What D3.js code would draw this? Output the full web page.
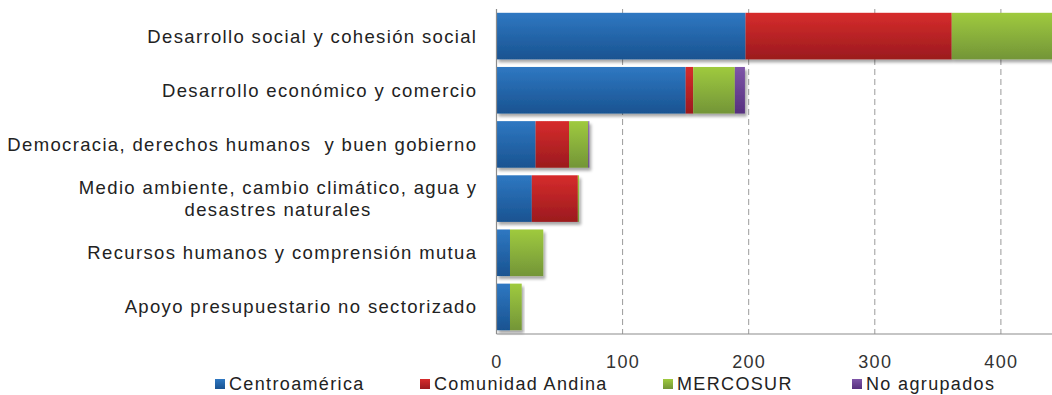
<!DOCTYPE html>
<html>
<head>
<meta charset="utf-8">
<script src="https://cdn.jsdelivr.net/npm/d3@7"></script>
<style>
  html, body { margin: 0; padding: 0; background: #fff; }
  svg { display: block; font-family: "Liberation Sans", Arial, sans-serif; }
</style>
</head>
<body>
<svg id="chart" width="1052" height="395"></svg>
<script>
// Sector categories (top to bottom)
const categories = [
  "Desarrollo social y cohesión social",
  "Desarrollo económico y comercio",
  "Democracia, derechos humanos  y buen gobierno",
  "Medio ambiente, cambio climático, agua y\ndesastres naturales",
  "Recursos humanos y comprensión mutua",
  "Apoyo presupuestario no sectorizado"
];

// Series names
const seriesNames = ["Centroamérica", "Comunidad Andina", "MERCOSUR", "No agrupados"];

// Values per series, aligned with categories
const centroamerica   = [197.5, 150, 31, 28, 10.7, 10.7];
const comunidadAndina = [163.5, 6, 26.5, 36.5, 0, 0];
const mercosur        = [120, 33, 15.3, 1, 26.4, 9.3];
const noAgrupados     = [0, 8, 0.8, 0, 0, 0];

// Axis tick labels
const tickValues = [0, 100, 200, 300, 400];

const seriesValues = [centroamerica, comunidadAndina, mercosur, noAgrupados];
const colors = [
  { top: "#2f78c2", bottom: "#195391" },
  { top: "#d62c2c", bottom: "#9b1a1e" },
  { top: "#9fca3e", bottom: "#739538" },
  { top: "#7e55a8", bottom: "#56307e" }
];

const rows = categories.map((c, i) => {
  const r = { category: c };
  seriesNames.forEach((s, k) => { r[s] = seriesValues[k][i]; });
  return r;
});

const svg = d3.select("#chart");
const W = 1052;
const plotLeft = 496.5, plotTop = 9, plotBottom = 334;
const spacing = 1.35;

const x = d3.scaleLinear().domain([0, 500]).range([plotLeft, plotLeft + 630.5]);
const y = d3.scaleBand().domain(categories).range([plotTop, plotBottom]).paddingInner(0.14).paddingOuter(0.07);

const defs = svg.append("defs");
colors.forEach((c, k) => {
  const g = defs.append("linearGradient").attr("id", "grad" + k)
    .attr("x1", 0).attr("y1", 0).attr("x2", 0).attr("y2", 1);
  g.append("stop").attr("offset", "0%").attr("stop-color", c.top);
  g.append("stop").attr("offset", "100%").attr("stop-color", c.bottom);
});
const shadow = defs.append("filter").attr("id", "shadow")
  .attr("x", "-5%").attr("y", "-10%").attr("width", "115%").attr("height", "140%");
shadow.append("feGaussianBlur").attr("in", "SourceAlpha").attr("stdDeviation", 1.6).attr("result", "b");
shadow.append("feOffset").attr("in", "b").attr("dx", 2).attr("dy", 3).attr("result", "o");
shadow.append("feComponentTransfer").attr("in", "o").attr("result", "s")
  .append("feFuncA").attr("type", "linear").attr("slope", 0.35);
const merge = shadow.append("feMerge");
merge.append("feMergeNode").attr("in", "s");
merge.append("feMergeNode").attr("in", "SourceGraphic");

// Dashed vertical gridlines
svg.append("g")
  .selectAll("line")
  .data(tickValues.filter(v => v > 0))
  .join("line")
  .attr("x1", d => x(d)).attr("x2", d => x(d))
  .attr("y1", plotTop).attr("y2", plotBottom)
  .attr("stroke", "#9a9a9a").attr("stroke-width", 1)
  .attr("stroke-dasharray", "6,4");

// Stacked bars
const stacked = d3.stack().keys(seriesNames)(rows);

const barsG = svg.append("g");
rows.forEach((row, i) => {
  const g = barsG.append("g").attr("filter", "url(#shadow)");
  stacked.forEach((layer, k) => {
    const d = layer[i];
    if (d[1] - d[0] <= 0) return;
    g.append("rect")
      .attr("x", x(d[0]))
      .attr("y", y(row.category))
      .attr("width", x(d[1]) - x(d[0]))
      .attr("height", y.bandwidth())
      .attr("fill", "url(#grad" + k + ")");
  });
});

// Axis lines
svg.append("line")
  .attr("x1", plotLeft).attr("x2", plotLeft)
  .attr("y1", plotTop).attr("y2", plotBottom)
  .attr("stroke", "#8c8c8c").attr("stroke-width", 1.2);
svg.append("line")
  .attr("x1", plotLeft).attr("x2", W)
  .attr("y1", plotBottom).attr("y2", plotBottom)
  .attr("stroke", "#8c8c8c").attr("stroke-width", 1.2);

// X axis tick labels
const xAxis = d3.axisBottom(x).tickValues(tickValues).tickSize(0).tickPadding(0);
const xg = svg.append("g").attr("transform", `translate(0,${plotBottom})`).call(xAxis);
xg.select(".domain").remove();
xg.selectAll("text")
  .attr("y", 34).attr("dy", 0)
  .attr("font-size", 18).attr("font-family", "Liberation Sans, Arial, sans-serif")
  .attr("letter-spacing", spacing)
  .attr("fill", "#333");

// Category labels (right aligned, multi-line centred within the block)
const labelRight = 476 + spacing;
const lg = svg.append("g").attr("font-size", 18.5).attr("fill", "#222")
  .attr("letter-spacing", spacing);
categories.forEach(c => {
  const lines = c.split("\n");
  const cy = y(c) + y.bandwidth() / 2;
  const lh = 22;
  const t = lg.append("text").attr("text-anchor", "end").attr("xml:space", "preserve");
  const spans = lines.map((ln, j) => t.append("tspan")
    .attr("x", labelRight)
    .attr("y", cy + (j - (lines.length - 1) / 2) * lh + 6.5)
    .text(ln));
  if (lines.length > 1) {
    const widths = spans.map(s => s.node().getComputedTextLength());
    const maxW = d3.max(widths);
    const center = labelRight - maxW / 2;
    spans.forEach(s => s.attr("x", center));
    t.attr("text-anchor", "middle");
  }
});

// Legend
const legendX = [215, 420, 663, 852];
const legend = svg.append("g");
seriesNames.forEach((s, k) => {
  legend.append("rect")
    .attr("x", legendX[k]).attr("y", 379)
    .attr("width", 10).attr("height", 10)
    .attr("fill", "url(#grad" + k + ")");
  legend.append("text")
    .attr("x", legendX[k] + 14).attr("y", 390)
    .attr("font-size", 18).attr("fill", "#222")
    .attr("letter-spacing", spacing)
    .text(s);
});
</script>
</body>
</html>
